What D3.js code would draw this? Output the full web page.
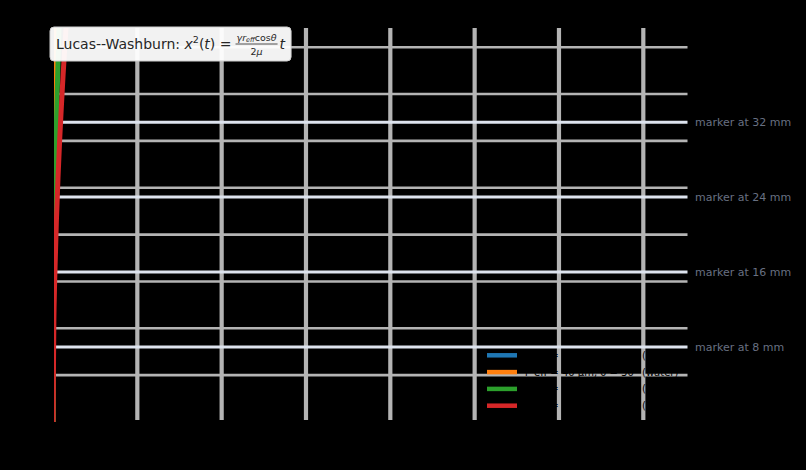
<!DOCTYPE html>
<html>
<head>
<meta charset="utf-8">
<script src="https://cdn.jsdelivr.net/npm/d3@7"></script>
<style>
  body { margin: 0; background: #000; }
  svg { display: block; font-family: "DejaVu Sans", sans-serif; }
</style>
</head>
<body>
<svg id="chart" width="806" height="470"></svg>
<script>
// data
const seriesNames = [
  "r_eff = 80 µm, θ = 30° (water)",
  "r_eff = 40 µm, θ = 30° (water)",
  "r_eff = 20 µm, θ = 30° (water)",
  "r_eff = 10 µm, θ = 30° (water)"
];
const seriesColors = ["#1f77b4", "#ff7f0e", "#2ca02c", "#d62728"];

const timeBlue = [0, 0.1, 0.25, 0.5, 0.75, 1, 1.25, 1.5, 1.75, 2];
const depthBlue = [0, 10.0, 15.8, 22.4, 27.4, 31.6, 35.4, 38.7, 41.8, 44.7];
const timeOrange = [0, 0.25, 0.5, 1, 1.5, 2, 2.5, 3, 3.5, 4];
const depthOrange = [0, 11.1, 15.8, 22.3, 27.3, 31.5, 35.2, 38.6, 41.7, 44.6];
const timeGreen = [0, 0.5, 1, 2, 3, 4, 5, 6, 7, 8];
const depthGreen = [0, 11.1, 15.7, 22.3, 27.3, 31.5, 35.2, 38.6, 41.7, 44.5];
const timeRed = [0, 1, 2, 4, 6, 8, 10, 12, 14, 16];
const depthRed = [0, 10.7, 15.1, 21.4, 26.2, 30.3, 33.8, 37.1, 40.0, 42.8];

const markerDepths = [8, 16, 24, 32];
const xTicks = [0, 100, 200, 300, 400, 500, 600, 700];
const yTicks = [0, 5, 10, 15, 20, 25, 30, 35, 40];

const series = [
  { name: seriesNames[0], color: seriesColors[0], pts: d3.zip(timeBlue, depthBlue) },
  { name: seriesNames[1], color: seriesColors[1], pts: d3.zip(timeOrange, depthOrange) },
  { name: seriesNames[2], color: seriesColors[2], pts: d3.zip(timeGreen, depthGreen) },
  { name: seriesNames[3], color: seriesColors[3], pts: d3.zip(timeRed, depthRed) }
];

const svg = d3.select("#chart");
const margin = { top: 27.5, right: 118, bottom: 48, left: 53 };
const width = +svg.attr("width") - margin.left - margin.right;
const height = +svg.attr("height") - margin.top - margin.bottom;

const x = d3.scaleLinear().domain([0, 753]).range([0, width]);
const y = d3.scaleLinear().domain([0, 42.1]).range([height, 0]);

svg.append("defs").append("clipPath").attr("id", "clip")
  .append("rect").attr("width", width).attr("height", height);

const g = svg.append("g")
  .attr("transform", `translate(${margin.left},${margin.top})`);

// grid
g.append("g").selectAll("line")
  .data(xTicks.filter(d => d > 0))
  .enter().append("line")
  .attr("x1", d => x(d)).attr("x2", d => x(d))
  .attr("y1", 0).attr("y2", height - 2)
  .attr("stroke", "#b4b4b4").attr("stroke-width", 4.2);

g.append("g").selectAll("line")
  .data(yTicks.filter(d => d > 0))
  .enter().append("line")
  .attr("x1", 0).attr("x2", width)
  .attr("y1", d => y(d)).attr("y2", d => y(d))
  .attr("stroke", "#b4b4b4").attr("stroke-width", 2.6);

// reference depths
g.append("g").selectAll("line")
  .data(markerDepths)
  .enter().append("line")
  .attr("x1", 0).attr("x2", width)
  .attr("y1", d => y(d)).attr("y2", d => y(d))
  .attr("stroke", "#dde3ee").attr("stroke-width", 3);

svg.append("g").selectAll("text")
  .data(markerDepths)
  .enter().append("text")
  .attr("x", margin.left + width + 7)
  .attr("y", d => margin.top + y(d))
  .attr("dy", "0.35em")
  .attr("font-size", 11)
  .attr("fill", "#687082")
  .text(d => `marker at ${d} mm`);

// curves
const line = d3.line().x(d => x(d[0])).y(d => y(d[1])).curve(d3.curveMonotoneX);
g.append("g").attr("clip-path", "url(#clip)")
  .selectAll("path")
  .data(series)
  .enter().append("path")
  .attr("fill", "none")
  .attr("stroke", d => d.color)
  .attr("stroke-width", 5)
  .attr("d", d => line(d.pts));

// axes (black, as in the original)
const xAxis = g.append("g")
  .attr("transform", `translate(0,${height})`)
  .call(d3.axisBottom(x).tickValues(xTicks).tickSizeOuter(0));
const yAxis = g.append("g")
  .call(d3.axisLeft(y).tickValues(yTicks).tickSizeOuter(0));
[xAxis, yAxis].forEach(a => {
  a.selectAll("path,line").attr("stroke", "#000");
  a.selectAll("text").attr("fill", "#000").attr("font-size", 12)
    .attr("font-family", "DejaVu Sans, sans-serif");
});
g.append("line").attr("x1", width).attr("x2", width).attr("y1", 0).attr("y2", height).attr("stroke", "#000");
g.append("line").attr("x1", 0).attr("x2", width).attr("y1", 0).attr("y2", 0).attr("stroke", "#000");

svg.append("text")
  .attr("x", margin.left + width / 2).attr("y", 462)
  .attr("text-anchor", "middle").attr("font-size", 13).attr("fill", "#000")
  .text("Time t (s)");
svg.append("text")
  .attr("transform", `translate(14,${margin.top + height / 2}) rotate(-90)`)
  .attr("text-anchor", "middle").attr("font-size", 13).attr("fill", "#000")
  .text("Penetration depth x (mm)");

// legend
const legend = svg.append("g").attr("transform", "translate(487,355.3)");
const row = legend.selectAll("g").data(series).enter().append("g")
  .attr("transform", (d, i) => `translate(0,${i * 16.8})`);
row.append("line").attr("x1", 0).attr("x2", 30)
  .attr("stroke", d => d.color).attr("stroke-width", 4.5);
row.append("text").attr("x", 38).attr("dy", "0.35em")
  .attr("font-size", 10).attr("fill", "#000")
  .text(d => d.name);

// formula box
const box = svg.append("g");
const boxRect = box.append("rect")
  .attr("x", 50).attr("y", 27).attr("height", 34).attr("rx", 4)
  .attr("fill", "#fff").attr("fill-opacity", 0.95)
  .attr("stroke", "#cfcfcf").attr("stroke-width", 1);
const main = box.append("text").attr("x", 56).attr("y", 49)
  .attr("font-size", 14).attr("fill", "#262626");
main.append("tspan").text("Lucas--Washburn: ");
main.append("tspan").attr("font-style", "italic").text("x");
main.append("tspan").attr("font-size", 9.5).attr("dy", -6).text("2");
main.append("tspan").attr("dy", 6).text("(");
main.append("tspan").attr("font-style", "italic").text("t");
main.append("tspan").text(") =");
const mainEnd = 56 + main.node().getComputedTextLength() + 4;

const num = box.append("text").attr("y", 40.5).attr("font-size", 9.5).attr("fill", "#262626");
num.append("tspan").attr("font-style", "italic").text("γr");
num.append("tspan").attr("font-style", "italic").attr("font-size", 6.5).attr("dy", 1.5).text("eff");
num.append("tspan").attr("dy", -1.5).text("cos");
num.append("tspan").attr("font-style", "italic").text("θ");
const numW = num.node().getComputedTextLength();
num.attr("x", mainEnd + 1);
const fracMid = mainEnd + 1 + numW / 2;
box.append("line").attr("x1", mainEnd).attr("x2", mainEnd + 2 + numW)
  .attr("y1", 44).attr("y2", 44).attr("stroke", "#262626").attr("stroke-width", 0.8);
box.append("text").attr("x", fracMid).attr("y", 55).attr("text-anchor", "middle")
  .attr("font-size", 9.5).attr("fill", "#262626")
  .html('2<tspan font-style="italic">μ</tspan>');
const tEl = box.append("text").attr("x", mainEnd + 4 + numW).attr("y", 49)
  .attr("font-size", 14).attr("font-style", "italic").attr("fill", "#262626").text("t");
const tEnd = mainEnd + 4 + numW + tEl.node().getComputedTextLength();
boxRect.attr("width", tEnd + 6 - 50);
</script>
</body>
</html>
